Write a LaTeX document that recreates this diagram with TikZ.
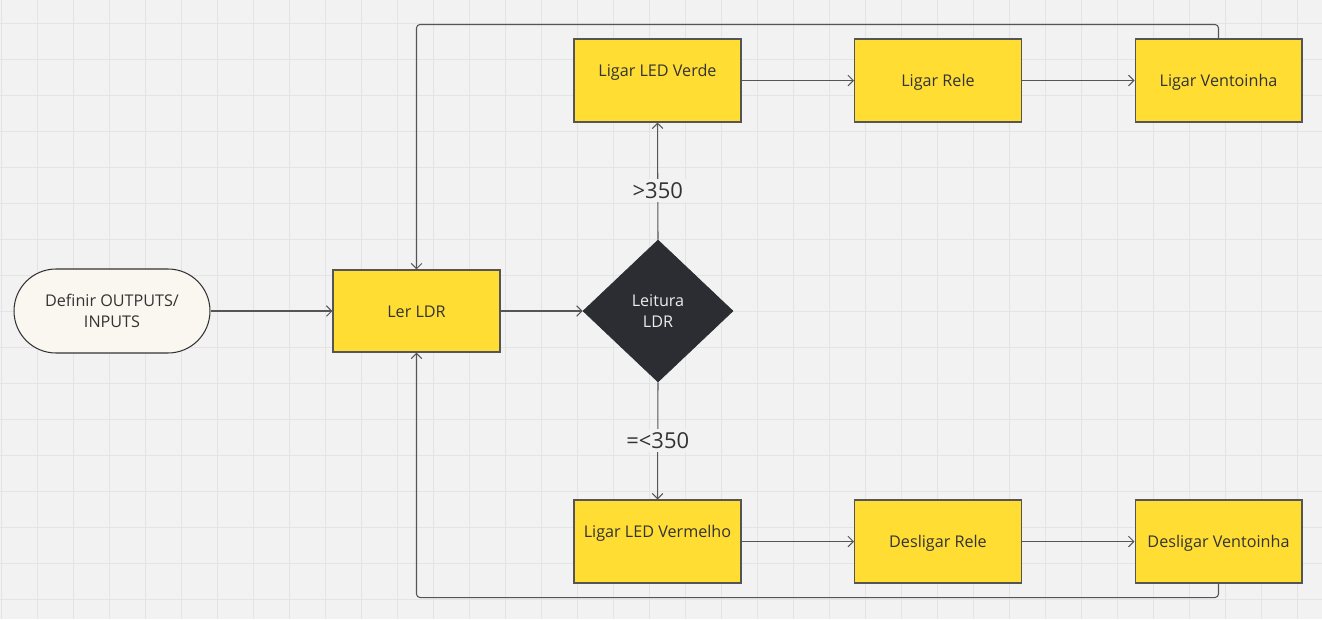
\documentclass[tikz,border=0pt]{standalone}
\usepackage{fontspec}
\setmainfont{Open Sans}
\usetikzlibrary{shapes.geometric, arrows.meta, positioning}
\definecolor{boardbg}{RGB}{242, 242, 242}
\definecolor{gridgray}{RGB}{228, 228, 228}
\definecolor{stickyyellow}{RGB}{255, 221, 51}
\definecolor{edgegray}{RGB}{85, 85, 85}
\definecolor{inkgray}{RGB}{51, 51, 51}
\definecolor{creamfill}{RGB}{250, 247, 240}
\definecolor{darkdecision}{RGB}{43, 45, 51}

\tikzset{
  actbox/.style={draw=edgegray, fill=stickyyellow, line width=0.6pt, minimum width=3.34cm,
    minimum height=1.66cm, align=center, text=inkgray, font=\fontsize{9.2}{12}\selectfont,
    text height=8.5pt, text depth=1.3pt},
  uptext/.style={text depth=13.5pt},
  termbox/.style={draw=inkgray, fill=creamfill, line width=0.6pt, rounded corners=0.84cm,
    minimum width=3.92cm, minimum height=1.68cm, align=center, text=inkgray, font=\fontsize{9.2}{12}\selectfont},
  decbox/.style={diamond, draw=darkdecision, fill=darkdecision, minimum width=3cm, minimum height=2.84cm,
    inner sep=0pt, align=center, text=white!92!black, font=\fontsize{9.2}{12}\selectfont},
  flow/.style={draw=edgegray, line width=0.6pt, -{Straight Barb[length=3pt,width=6pt]}},
  cond/.style={fill=boardbg, text=inkgray, inner sep=2pt, font=\fontsize{12.5}{15}\selectfont}
}

\begin{document}
\begin{tikzpicture}[x=0.02cm, y=-0.02cm]
  % Board
  \fill[boardbg] (0,0) rectangle (1322,619);
  \useasboundingbox (0,0) rectangle (1322,619);
  \foreach \gx in {0,...,36} {
    \draw[gridgray, line width=0.5pt] ({1+36*\gx},0) -- ({1+36*\gx},619);
  }
  \foreach \gy in {0,...,16} {
    \draw[gridgray, line width=0.5pt] (0,{23+36*\gy}) -- (1322,{23+36*\gy});
  }

  % Start and reading
  \node[termbox] (inicio) at (112, 311) {Definir OUTPUTS/\\INPUTS};
  \node[actbox, minimum height=1.64cm] (ler) at (416.5, 311) {Ler LDR};
  \node[decbox] (leitura) at (658, 311) {Leitura\\LDR};

  % Branch >350
  \node[actbox, uptext] (verde) at (657.5, 80.5) {Ligar LED Verde};
  \node[actbox] (rele) at (938, 80.5) {Ligar Rele};
  \node[actbox] (vent) at (1218.5, 80.5) {Ligar Ventoinha};

  % Branch =<350
  \node[actbox, uptext] (vermelho) at (657.5, 541.5) {Ligar LED Vermelho};
  \node[actbox] (drele) at (938, 541.5) {Desligar Rele};
  \node[actbox] (dvent) at (1218.5, 541.5) {Desligar Ventoinha};

  % Connectors
  \draw[flow] (inicio) -- (ler);
  \draw[flow] (ler) -- (leitura);
  \draw[flow] (leitura.north) -- node[cond, pos=0.42] {>350} (verde.south);
  \draw[flow] (leitura.south) -- node[cond, pos=0.5] {=<350} (vermelho.north);
  \draw[flow] (verde) -- (rele);
  \draw[flow] (rele) -- (vent);
  \draw[flow] (vermelho) -- (drele);
  \draw[flow] (drele) -- (dvent);

  % Loops back
  \draw[flow, rounded corners=2pt] (vent.north) -- ++(0,-14) -| (ler.north);
  \draw[flow, rounded corners=2pt] (dvent.south) -- ++(0,14) -| (ler.south);
\end{tikzpicture}
\end{document}
